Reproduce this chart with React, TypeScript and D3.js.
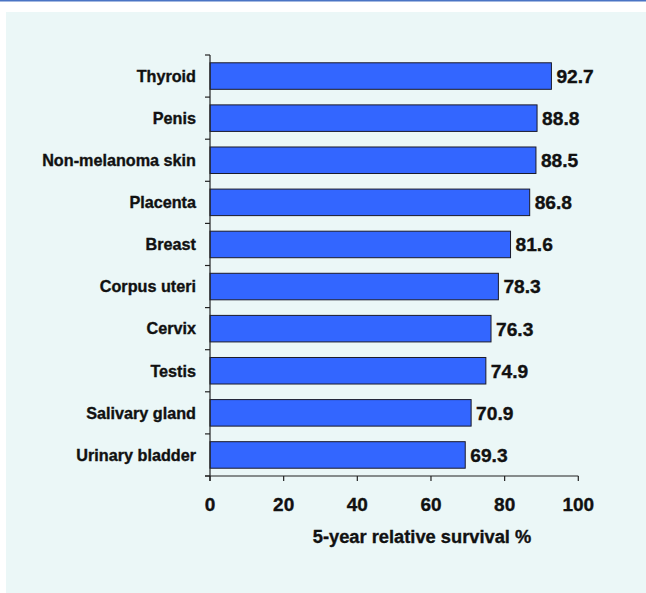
import React from "react";
import * as d3 from "d3";

const categories = ["Thyroid", "Penis", "Non-melanoma skin", "Placenta", "Breast", "Corpus uteri", "Cervix", "Testis", "Salivary gland", "Urinary bladder"];
const values = [92.7, 88.8, 88.5, 86.8, 81.6, 78.3, 76.3, 74.9, 70.9, 69.3];
const xTicks = [0, 20, 40, 60, 80, 100];
const xTitle = "5-year relative survival %";

const W = 646, H = 593;
const FONT = "Arial, 'Liberation Sans', Helvetica, sans-serif";
const TXT = { fontFamily: FONT, fontWeight: "bold" as const, fill: "#111", stroke: "#111", strokeWidth: 0.35 };

export default function App() {
  const x = d3.scaleLinear().domain([0, 100]).range([210, 578.3]);
  const y = d3.scaleBand<string>().domain(categories).range([55, 476]).paddingInner(0.37).paddingOuter(0.185);
  const boundaries = d3.range(categories.length + 1).map(i => 55 + i * ((476 - 55) / categories.length));
  return (
    <div style={{ position: "fixed", left: 0, top: 0, width: W, height: H }}>
      <svg width={W} height={H} style={{ display: "block" }}>
        <rect x={0} y={0} width={W} height={H} fill="#ffffff" />
        <rect x={0} y={0} width={W} height={1.5} fill="#4a74c4" />
        <rect x={6} y={12} width={W - 6} height={H - 12} fill="#ebf7f7" />
        {categories.map((c, i) => (
          <g key={c}>
            <rect x={x(0)} y={y(c)!} width={x(values[i]) - x(0)} height={y.bandwidth()} fill="#3366ff" stroke="#1a1a2a" strokeWidth={1} />
            <text x={x(values[i]) + 5} y={y(c)! + y.bandwidth() / 2} dy="0.36em" fontSize={19.2} {...TXT}>{values[i].toFixed(1)}</text>
            <text x={196} y={y(c)! + y.bandwidth() / 2} dy="0.36em" textAnchor="end" fontSize={16.2} {...TXT}>{c}</text>
          </g>
        ))}
        <line x1={x(0)} x2={x(0)} y1={55} y2={481} stroke="#222" strokeWidth={1.2} />
        {boundaries.map((b, i) => (
          <line key={i} x1={205} x2={x(0)} y1={b} y2={b} stroke="#222" strokeWidth={1.2} />
        ))}
        <line x1={205} x2={x(100)} y1={476} y2={476} stroke="#222" strokeWidth={1.2} />
        {xTicks.map(t => (
          <g key={t}>
            <line x1={x(t)} x2={x(t)} y1={476} y2={481} stroke="#222" strokeWidth={1.2} />
            <text x={x(t)} y={511} textAnchor="middle" fontSize={19} {...TXT}>{t}</text>
          </g>
        ))}
        <text x={422} y={543} textAnchor="middle" fontSize={18.3} {...TXT}>{xTitle}</text>
      </svg>
    </div>
  );
}
